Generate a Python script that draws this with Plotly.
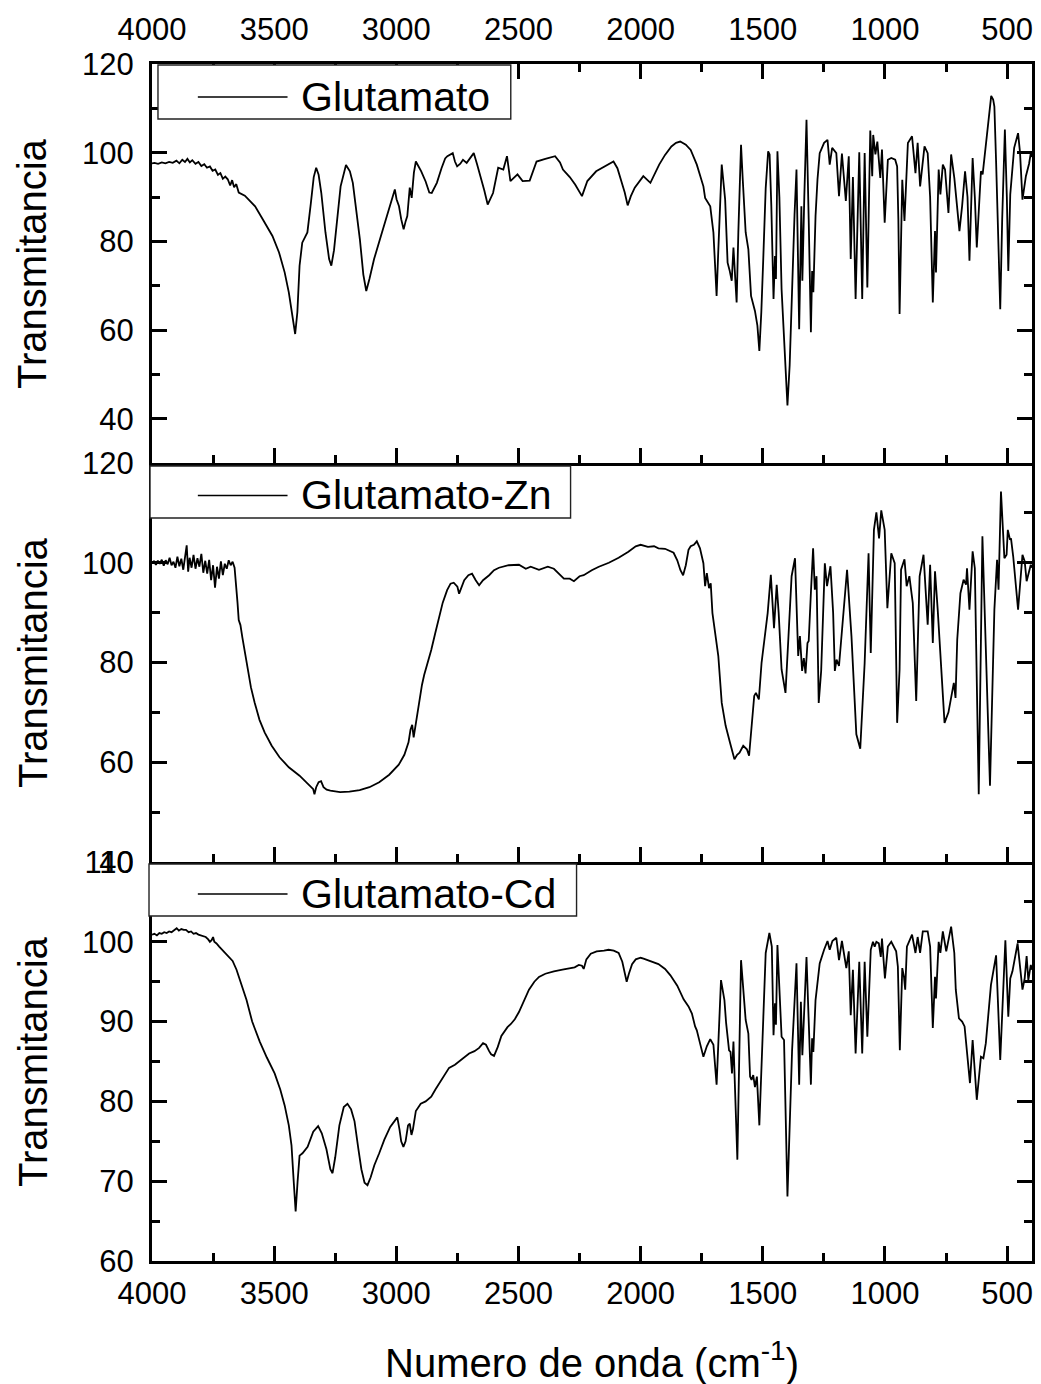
import plotly.graph_objects as go

# ---------------- data: FTIR spectra (wavenumber in cm-1, transmittance) ----------------
glu_wn = [
    4000, 3990, 3975, 3960, 3945, 3930, 3915, 3900, 3888, 3876,
    3865, 3855, 3845, 3835, 3822, 3810, 3798, 3786, 3775, 3763,
    3752, 3741, 3730, 3720, 3710, 3700, 3690, 3680, 3672, 3664,
    3655, 3645, 3620, 3600, 3578, 3545, 3507, 3480, 3457, 3440,
    3425, 3414, 3405, 3396, 3385, 3364, 3350, 3338, 3328, 3318,
    3307, 3290, 3275, 3266, 3255, 3240, 3228, 3206, 3190, 3178,
    3163, 3149, 3135, 3123, 3110, 3091, 3063, 3040, 3020, 3006,
    2999, 2995, 2989, 2980, 2970, 2962, 2955, 2945, 2937, 2928,
    2920, 2910, 2898, 2880, 2865, 2855, 2845, 2834, 2815, 2800,
    2791, 2769, 2760, 2751, 2738, 2727, 2712, 2695, 2683, 2670,
    2655, 2640, 2626, 2604, 2583, 2562, 2547, 2533, 2504, 2483,
    2454, 2426, 2390, 2350, 2330, 2318, 2290, 2268, 2240, 2218,
    2182, 2150, 2111, 2095, 2082, 2065, 2053, 2040, 2024, 1989,
    1960, 1940, 1924, 1900, 1874, 1855, 1838, 1815, 1804, 1795,
    1770, 1755, 1743, 1736, 1725, 1715, 1702, 1695, 1689, 1682,
    1675, 1668, 1654, 1644, 1636, 1627, 1620, 1613, 1607, 1600,
    1594, 1589, 1582, 1570, 1559, 1548, 1532, 1522, 1514, 1506,
    1498, 1488, 1478, 1472, 1465, 1456, 1450, 1446, 1440, 1432,
    1423, 1412, 1405, 1399, 1390, 1380, 1370, 1362, 1356, 1351,
    1342, 1338, 1330, 1321, 1312, 1303, 1298, 1293, 1284, 1276,
    1267, 1249, 1235, 1226, 1216, 1199, 1188, 1176, 1160, 1148,
    1140, 1131, 1120, 1105, 1093, 1083, 1072, 1060, 1052, 1048,
    1039, 1031, 1019, 1012, 1001, 988, 974, 958, 950, 945,
    940, 935, 929, 920, 906, 889, 875, 866, 856, 838,
    825, 815, 804, 795, 791, 780, 773, 763, 754, 740,
    729, 716, 705, 695, 684, 672, 662, 654, 641, 632,
    624, 607, 600, 587, 575, 565, 557, 552, 545, 535,
    528, 520, 509, 501, 495, 487, 471, 455, 447, 437,
    423, 410, 403, 398,
]
glu_t = [
    97.6, 97.7, 97.5, 97.8, 97.6, 97.9, 97.7, 98.2, 97.6, 98.4,
    97.9, 98.6, 97.8, 98.3, 97.5, 97.9, 97.0, 97.4, 96.6, 96.9,
    95.9, 96.2, 95.0, 95.4, 94.1, 94.6, 94.0, 92.6, 93.8, 92.2,
    92.9, 91.0, 90.3, 89.2, 87.9, 84.8, 81.2, 77.5, 73.0, 68.5,
    63.0, 59.1, 64.0, 74.5, 79.7, 82.0, 88.5, 94.5, 96.6, 95.0,
    90.9, 82.0, 76.0, 74.5, 78.0, 87.0, 92.4, 97.2, 95.8, 93.2,
    87.0, 80.4, 72.5, 68.8, 71.5, 76.0, 81.2, 85.5, 89.0, 91.7,
    89.5, 88.8, 87.9, 85.0, 82.7, 84.5, 85.7, 92.1, 89.8, 95.5,
    98.0, 97.0, 95.8, 93.5, 91.0, 90.9, 92.0, 93.2, 96.5, 98.7,
    99.2, 99.9, 98.0, 96.9, 97.5, 98.4, 97.7, 99.0, 99.9, 97.5,
    94.7, 91.5, 88.3, 90.9, 96.6, 96.2, 99.2, 93.6, 95.1, 93.6,
    93.7, 98.0, 98.6, 99.2, 97.8, 96.2, 94.5, 92.8, 90.2, 93.6,
    95.8, 96.8, 98.0, 96.5, 94.3, 91.0, 88.1, 90.2, 92.1, 94.7,
    93.2, 95.5, 97.3, 99.5, 101.4, 102.2, 102.5, 101.8, 101.1, 100.6,
    97.3, 94.5, 92.4, 89.8, 88.8, 87.9, 82.0, 75.0, 67.7, 78.0,
    90.0, 97.3, 89.4, 75.2, 73.5, 71.1, 78.6, 72.0, 66.2, 82.0,
    95.0, 101.8, 94.0, 82.0, 78.2, 67.7, 64.3, 61.0, 55.3, 64.0,
    76.0, 92.0, 100.3, 99.6, 88.0, 67.0, 76.7, 71.5, 100.3, 90.0,
    69.2, 57.0, 48.0, 43.0, 52.0, 70.0, 86.0, 96.2, 80.0, 60.2,
    87.9, 71.1, 90.0, 107.4, 85.0, 59.5, 73.3, 68.5, 85.7, 94.0,
    99.9, 102.2, 102.9, 97.3, 101.1, 99.9, 90.2, 99.8, 89.1, 99.2,
    76.0, 94.5, 67.0, 100.1, 67.0, 99.9, 69.6, 105.0, 94.7, 104.0,
    99.6, 102.5, 94.3, 100.7, 84.2, 98.4, 98.8, 98.4, 96.9, 85.0,
    63.6, 78.0, 93.9, 84.6, 102.2, 103.7, 95.4, 102.2, 92.4, 101.4,
    99.9, 90.0, 66.2, 82.3, 73.0, 96.2, 90.6, 97.3, 96.2, 86.4,
    99.6, 94.3, 88.0, 82.3, 88.0, 95.8, 90.0, 75.6, 98.8, 90.0,
    78.6, 95.8, 95.1, 101.4, 106.5, 112.8, 112.0, 110.4, 98.0, 75.0,
    64.7, 85.0, 105.2, 90.0, 73.3, 90.6, 101.1, 104.4, 100.0, 89.4,
    94.7, 97.5, 99.9, 99.0,
]

zn_wn = [
    4000, 3992, 3984, 3976, 3968, 3960, 3952, 3944, 3936, 3928,
    3920, 3912, 3904, 3896, 3888, 3880, 3872, 3864, 3858, 3852,
    3846, 3838, 3830, 3822, 3814, 3806, 3798, 3790, 3782, 3774,
    3766, 3758, 3750, 3742, 3734, 3726, 3718, 3710, 3702, 3694,
    3686, 3678, 3670, 3662, 3656, 3650, 3645, 3638, 3630, 3620,
    3608, 3595, 3580, 3560, 3539, 3510, 3478, 3440, 3396, 3360,
    3340, 3335, 3328, 3318, 3308, 3298, 3285, 3270, 3253, 3230,
    3192, 3150, 3110, 3070, 3029, 2990, 2967, 2950, 2942, 2935,
    2929, 2924, 2915, 2906, 2895, 2886, 2870, 2857, 2840, 2824,
    2810, 2792, 2778, 2765, 2750, 2743, 2735, 2722, 2705, 2690,
    2675, 2661, 2645, 2620, 2600, 2580, 2540, 2498, 2470, 2450,
    2416, 2380, 2355, 2330, 2314, 2290, 2273, 2250, 2233, 2200,
    2171, 2130, 2090, 2050, 2020, 2000, 1970, 1945, 1927, 1900,
    1880, 1865, 1850, 1837, 1826, 1815, 1804, 1795, 1782, 1770,
    1757, 1743, 1736, 1729, 1720, 1713, 1706, 1682, 1668, 1652,
    1634, 1625, 1616, 1605, 1595, 1580, 1565, 1556, 1546, 1535,
    1528, 1516, 1505, 1491, 1480, 1467, 1460, 1454, 1443, 1435,
    1423, 1407, 1395, 1382, 1368, 1355, 1348, 1339, 1332, 1325,
    1317, 1312, 1303, 1294, 1287, 1280, 1271, 1261, 1246, 1237,
    1223, 1212, 1205, 1198, 1188, 1172, 1155, 1137, 1117, 1101,
    1083, 1067, 1058, 1045, 1035, 1024, 1015, 1001, 990, 974,
    960, 950, 940, 934, 920, 911, 900, 886, 872, 858,
    842, 825, 815, 804, 795, 784, 770, 756, 740, 729,
    718, 711, 704, 691, 678, 668, 664, 654, 641, 632,
    616, 601, 587, 570, 552, 541, 535, 525, 511, 502,
    497, 488, 484, 475, 455, 437, 428, 420, 403, 398,
]
zn_t = [
    100.0, 100.3, 99.6, 100.4, 99.8, 100.6, 99.4, 100.5, 99.7, 101.0,
    99.5, 100.2, 99.0, 101.2, 99.3, 100.8, 98.6, 101.5, 103.5, 98.2,
    101.0, 99.0, 101.6, 98.8, 100.9, 99.2, 101.8, 98.0, 100.4, 97.8,
    100.6, 96.5, 99.5, 95.0, 99.2, 96.8, 100.3, 97.5, 99.8, 98.8,
    100.5, 99.5, 100.2, 99.0, 96.0, 92.0, 88.5, 87.5, 85.0, 82.0,
    79.0, 75.0, 72.0, 68.5, 66.0, 63.3, 61.0, 59.0, 57.3, 55.5,
    54.6, 53.6, 55.0, 56.0, 56.2, 55.0, 54.5, 54.3, 54.2, 54.0,
    54.1, 54.4, 55.0, 56.0, 57.5, 59.5, 61.5, 64.0, 66.5, 67.5,
    65.0, 66.5, 70.0, 72.0, 75.5, 77.5, 80.0, 82.5, 86.0, 89.0,
    92.0, 94.5, 95.8, 96.0, 95.2, 93.8, 95.0, 96.5, 97.5, 97.8,
    96.5, 95.5, 96.5, 97.5, 98.5, 99.0, 99.5, 99.6, 98.8, 99.2,
    98.6, 99.2, 98.8, 97.5, 96.8, 96.8, 96.3, 97.3, 97.5, 98.5,
    99.2, 100.0, 101.0, 102.2, 103.3, 103.6, 103.2, 103.3, 102.9, 102.8,
    102.3, 102.0, 100.5, 98.5, 97.5, 99.5, 102.6, 103.3, 103.6, 104.3,
    102.9, 99.9, 95.3, 97.9, 94.9, 95.9, 89.9, 81.3, 71.9, 67.3,
    63.9, 62.0, 60.6, 61.5, 61.9, 63.3, 62.6, 61.3, 67.9, 73.3,
    73.9, 72.6, 79.9, 85.3, 89.9, 97.6, 92.0, 86.9, 95.6, 90.0,
    78.6, 73.9, 85.0, 97.3, 100.9, 81.3, 85.3, 78.3, 80.9, 77.8,
    83.9, 84.3, 94.0, 102.9, 94.6, 97.3, 71.9, 78.3, 99.9, 95.3,
    99.3, 90.0, 78.3, 80.6, 79.3, 88.6, 98.6, 85.3, 65.6, 62.7,
    79.9, 101.9, 81.9, 106.6, 110.1, 104.9, 110.5, 106.6, 90.9, 101.9,
    99.9, 67.9, 78.6, 98.6, 100.7, 95.3, 97.3, 91.9, 72.3, 97.3,
    101.6, 87.6, 99.6, 83.9, 98.3, 90.6, 78.0, 67.9, 70.0, 72.6,
    75.9, 72.9, 84.6, 93.9, 96.6, 95.6, 98.9, 90.6, 102.3, 98.9,
    53.6, 105.3, 83.9, 55.3, 90.6, 100.6, 94.6, 114.3, 100.9, 101.6,
    106.6, 104.6, 104.9, 101.3, 90.6, 101.6, 100.3, 96.3, 99.6, 99.0,
]

cd_wn = [
    4000, 3990, 3980, 3970, 3960, 3950, 3940, 3930, 3920, 3910,
    3899, 3890, 3880, 3870, 3861, 3850, 3840, 3830, 3820, 3810,
    3800, 3790, 3780, 3770, 3763, 3756, 3750, 3745, 3736, 3725,
    3710, 3695, 3682, 3670, 3654, 3640, 3625, 3613, 3590, 3559,
    3530, 3498, 3475, 3457, 3440, 3429, 3420, 3412, 3404, 3396,
    3384, 3363, 3340, 3320, 3305, 3286, 3270, 3261, 3250, 3233,
    3215, 3200, 3185, 3171, 3155, 3143, 3130, 3118, 3105, 3090,
    3070, 3049, 3025, 3008, 2996, 2987, 2980, 2971, 2962, 2952,
    2945, 2938, 2932, 2920, 2900, 2880, 2857, 2840, 2824, 2800,
    2784, 2760, 2743, 2720, 2702, 2680, 2661, 2645, 2633, 2620,
    2612, 2600, 2585, 2570, 2559, 2545, 2531, 2515, 2498, 2480,
    2457, 2435, 2416, 2390, 2355, 2320, 2294, 2270, 2253, 2240,
    2233, 2222, 2204, 2180, 2150, 2131, 2110, 2090, 2075, 2065,
    2057, 2048, 2035, 2020, 2000, 1988, 1960, 1927, 1900, 1878,
    1850, 1824, 1804, 1790, 1777, 1770, 1757, 1743, 1729, 1715,
    1702, 1689, 1671, 1657, 1650, 1638, 1632, 1626, 1620, 1604,
    1589, 1580, 1570, 1559, 1552, 1546, 1539, 1532, 1524, 1514,
    1502, 1488, 1473, 1463, 1456, 1450, 1446, 1440, 1423, 1413,
    1399, 1380, 1362, 1351, 1344, 1338, 1321, 1303, 1298, 1293,
    1284, 1267, 1249, 1235, 1226, 1215, 1199, 1188, 1176, 1158,
    1148, 1140, 1131, 1120, 1105, 1093, 1083, 1072, 1058, 1049,
    1042, 1035, 1025, 1017, 1012, 1000, 988, 974, 954, 947,
    939, 929, 922, 917, 910, 889, 875, 866, 856, 845,
    825, 815, 804, 795, 791, 780, 773, 763, 749, 729,
    716, 710, 697, 684, 674, 652, 641, 624, 607, 597,
    587, 566, 545, 528, 507, 495, 487, 478, 457, 437,
    428, 420, 413, 403, 398,
]
cd_t = [
    100.9, 101.0, 100.8, 101.1, 101.0, 101.2, 101.1, 101.3, 101.2, 101.5,
    101.7, 101.4, 101.6, 101.5, 101.5, 101.2, 101.3, 101.0, 101.1, 100.9,
    100.8, 100.7, 100.6, 100.3, 100.0, 100.2, 100.6, 100.0, 99.8, 99.4,
    98.9, 98.5, 98.1, 97.6, 96.5, 95.2, 93.8, 92.7, 90.0, 87.5,
    85.5, 83.5, 81.5, 79.5, 77.0, 74.5, 70.0, 66.2, 70.0, 73.2,
    73.5, 74.3, 76.2, 76.9, 76.0, 74.0, 71.5, 71.0, 73.0, 77.0,
    79.3, 79.7, 79.0, 77.5, 74.0, 71.5, 69.8, 69.5, 70.5, 72.0,
    73.5, 75.2, 76.8, 77.5, 78.0, 76.5, 75.0, 74.3, 75.0, 77.0,
    77.2, 75.8, 76.5, 78.8, 79.7, 80.0, 80.6, 81.5, 82.3, 83.5,
    84.2, 84.6, 85.0, 85.5, 86.0, 86.3, 86.7, 87.3, 87.1, 86.3,
    85.9, 85.7, 86.8, 88.2, 88.7, 89.3, 89.7, 90.3, 91.2, 92.5,
    94.0, 95.0, 95.6, 96.0, 96.3, 96.5, 96.7, 96.8, 97.1, 97.0,
    96.6, 97.8, 98.5, 98.8, 98.9, 99.0, 98.9, 98.6, 97.5, 96.0,
    95.0, 96.0, 97.2, 97.8, 98.0, 97.9, 97.6, 97.2, 96.6, 95.8,
    94.5, 92.8, 91.9, 91.0, 89.4, 88.9, 87.3, 85.6, 86.9, 87.8,
    87.1, 82.1, 95.2, 92.7, 89.8, 86.4, 86.2, 83.5, 87.5, 72.7,
    97.7, 94.4, 90.2, 88.5, 83.1, 82.7, 83.3, 81.8, 83.1, 77.0,
    87.7, 98.6, 101.1, 99.4, 88.3, 92.3, 89.6, 99.6, 88.1, 87.7,
    68.1, 86.4, 97.3, 82.1, 92.5, 85.8, 98.1, 82.1, 87.9, 86.2,
    92.7, 97.3, 99.0, 100.1, 99.0, 100.1, 100.5, 97.7, 100.1, 96.7,
    98.8, 90.8, 96.5, 86.0, 97.5, 86.0, 97.5, 88.1, 99.0, 100.0,
    99.4, 100.0, 99.8, 98.1, 100.4, 95.4, 99.4, 100.0, 98.8, 96.9,
    86.4, 96.7, 95.6, 94.0, 99.4, 100.9, 98.6, 100.6, 98.6, 101.3,
    101.3, 99.4, 89.2, 95.6, 92.9, 100.0, 98.6, 101.3, 98.8, 101.9,
    98.6, 94.0, 90.4, 90.0, 89.4, 82.3, 87.7, 80.2, 85.6, 85.4,
    87.3, 94.6, 98.3, 85.2, 100.2, 90.6, 95.4, 96.3, 99.8, 94.0,
    95.4, 98.2, 95.2, 97.1, 96.5,
]

series_names = ["Glutamato", "Glutamato-Zn", "Glutamato-Cd"]
x_tick_step = 500
y_ranges = [[30, 120], [40, 120], [60, 110]]
y_major = [20, 20, 10]
y_minor = [10, 10, 5]
x_range = [4000, 398]

# ---------------- figure geometry ----------------
W, H = 1041, 1384
M_L, M_R, M_T, M_B = 152, 6, 64, 123
PW = W - M_L - M_R
PH = H - M_T - M_B
FONT = "Liberation Sans, Arial, sans-serif"


def px_x(px):
    return (px - M_L) / PW


def px_y(py):
    return (H - M_B - py) / PH


fig = go.Figure()

traces = [(glu_wn, glu_t), (zn_wn, zn_t), (cd_wn, cd_t)]
for i, (xs, ys) in enumerate(traces):
    suffix = "" if i == 0 else str(i + 1)
    fig.add_trace(go.Scatter(
        x=xs, y=ys, mode="lines", name=series_names[i],
        line=dict(color="black", width=1.8),
        xaxis="x" + suffix, yaxis="y" + suffix, showlegend=False,
    ))

tickfont = dict(family=FONT, size=31, color="black")

xbase = dict(
    range=x_range, showline=True, linewidth=3, linecolor="black",
    ticks="inside", ticklen=15, tickwidth=3, tickcolor="black",
    tick0=0, dtick=x_tick_step,
    minor=dict(ticks="inside", ticklen=8, tickwidth=3, tickcolor="black",
               tick0=0, dtick=x_tick_step / 2),
    showgrid=False, zeroline=False, tickfont=tickfont,
)

ybase = dict(
    showline=True, linewidth=3, linecolor="black",
    ticks="inside", ticklen=15, tickwidth=3, tickcolor="black",
    mirror="ticks", tick0=0,
    showgrid=False, zeroline=False, tickfont=tickfont,
    ticklabelstandoff=9,
)

domains = [[2 / 3, 1], [1 / 3, 2 / 3], [0, 1 / 3]]

layout = dict(
    width=W, height=H,
    margin=dict(l=M_L, r=M_R, t=M_T, b=M_B),
    paper_bgcolor="white", plot_bgcolor="white",
    font=dict(family=FONT, color="black"),
    showlegend=False,
)

# top panel: labelled axis on top, ticks on both sides
layout["xaxis"] = dict(xbase, anchor="y", side="top", mirror="ticks",
                       showticklabels=True, ticklabelstandoff=9)
layout["xaxis2"] = dict(xbase, anchor="y2", showticklabels=False, mirror=False)
layout["xaxis3"] = dict(xbase, anchor="y3", showticklabels=True,
                        mirror=False, ticklabelstandoff=3)

for i in range(3):
    suffix = "" if i == 0 else str(i + 1)
    layout["yaxis" + suffix] = dict(
        ybase, domain=domains[i], range=y_ranges[i], dtick=y_major[i],
        anchor="x" + suffix,
        minor=dict(ticks="inside", ticklen=8, tickwidth=3, tickcolor="black",
                   tick0=0, dtick=y_minor[i]),
    )

fig.update_layout(**layout)

# axis titles
annotations = []
panel_centers = [263.5, 662.5, 1061.5]
for c in panel_centers:
    annotations.append(dict(
        text="Transmitancia", xref="paper", yref="paper",
        x=px_x(32), y=px_y(c), xanchor="center", yanchor="middle",
        textangle=-90, showarrow=False, font=dict(family=FONT, size=40, color="black"),
    ))
annotations.append(dict(
    text="Numero de onda (cm<sup>-1</sup>)", xref="paper", yref="paper",
    x=px_x(593), y=px_y(1360), xanchor="center", yanchor="middle",
    showarrow=False, font=dict(family=FONT, size=40, color="black"),
))

# per-panel legend boxes: frame, line sample, label
legend_boxes = [
    # (left, top, right, bottom, line_y)
    (158, 65, 512, 119, 97),
    (150, 466, 572, 518, 495.5),
    (149, 864, 578, 916, 894),
]
shapes = []
for (l, t, r, b, ly), name in zip(legend_boxes, series_names):
    shapes.append(dict(type="rect", xref="paper", yref="paper",
                       x0=px_x(l), x1=px_x(r), y0=px_y(b), y1=px_y(t),
                       line=dict(color="#222222", width=1.4), fillcolor="white",
                       layer="above"))
    shapes.append(dict(type="line", xref="paper", yref="paper",
                       x0=px_x(198), x1=px_x(288), y0=px_y(ly), y1=px_y(ly),
                       line=dict(color="black", width=1.7), layer="above"))
    annotations.append(dict(
        text=name, xref="paper", yref="paper", x=px_x(300), y=px_y(ly),
        xanchor="left", yanchor="middle", showarrow=False,
        font=dict(family=FONT, size=41, color="black"),
    ))

fig.update_layout(annotations=annotations, shapes=shapes)

fig.write_html("out.html")
